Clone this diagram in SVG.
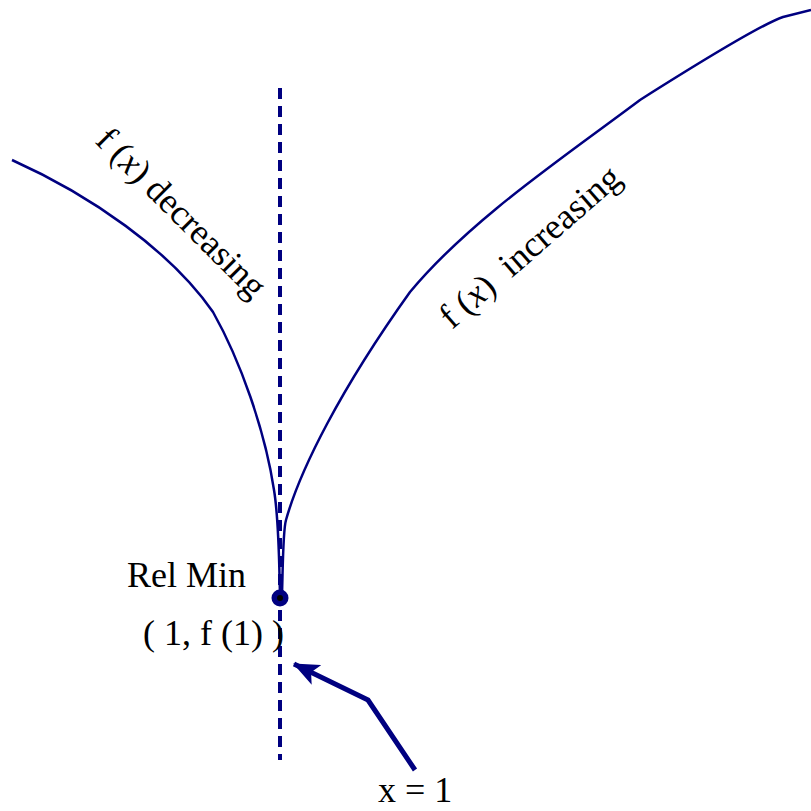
<svg xmlns="http://www.w3.org/2000/svg" width="811" height="811" viewBox="0 0 811 811">
<style>
.c{fill:none;stroke:#000080;stroke-width:2.5;stroke-linejoin:round}
.t{font-family:"Liberation Serif",serif;font-size:36px;fill:#000}
</style>
<defs>
<marker id="ah" markerWidth="26" markerHeight="22" refX="25" refY="11" orient="auto" markerUnits="userSpaceOnUse"><path d="M0,0 L26,11 L0,22 L6,11 Z" fill="#000080"/></marker>
</defs>
<rect width="811" height="811" fill="#fff"/>
<g id="connectors">
<line x1="280" y1="88" x2="280" y2="760" stroke="#000080" stroke-width="4" stroke-dasharray="11,7"/>
<path id="left-curve" class="c" d="M12,160 C90,195 170,250 213,312 C240,360 265,430 274,490 C279,520 279,560 280,595"/>
<path id="right-curve" class="c" d="M282,595 C283,560 283,530 286,520 C300,470 340,390 410,292 C470,220 560,160 640,100 C700,62 760,25 783,17 L811,10"/>
<polyline id="arrow" points="415,770 368,700 294,664" fill="none" stroke="#000080" stroke-width="5" marker-end="url(#ah)"/>
</g>
<g id="relmin">
<circle cx="280" cy="598" r="8.5" fill="#000080"/>
<circle cx="280" cy="598" r="3" fill="#000"/>
<text class="t" x="127" y="587">Rel Min</text>
<text class="t" x="143" y="645">( 1, f (1) )</text>
</g>
<g id="label-dec"><text class="t" transform="translate(94,142) rotate(45)">f (<tspan font-style="italic">x</tspan>) decreasing</text></g>
<g id="label-inc"><text class="t" xml:space="preserve" transform="translate(452,330) rotate(-41)">f (<tspan font-style="italic">x</tspan>)  increasing</text></g>
<g id="label-x"><text class="t" x="378" y="802">x = 1</text></g>
</svg>
